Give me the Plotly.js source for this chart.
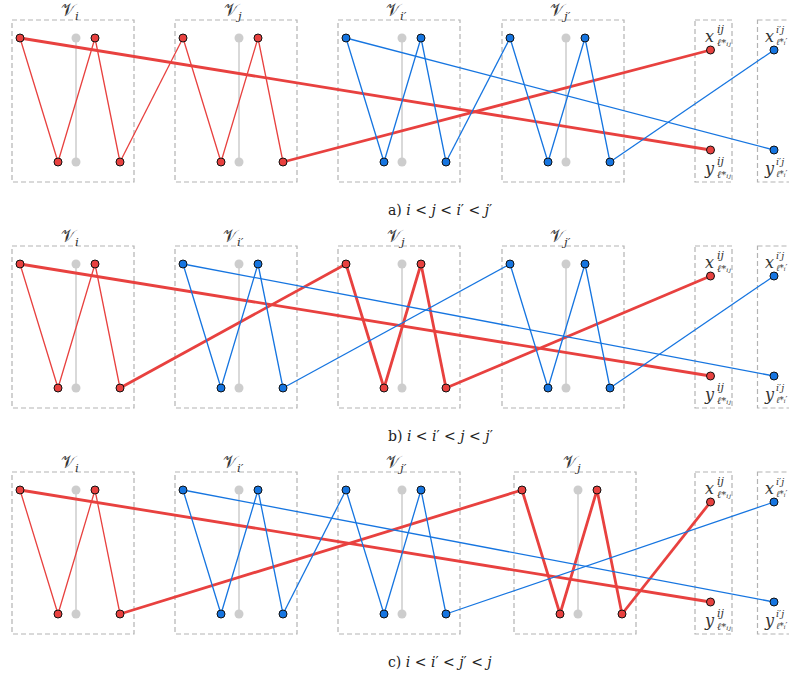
<!DOCTYPE html>
<html><head><meta charset="utf-8">
<script src="https://cdn.plot.ly/plotly-3.0.1.min.js"></script>
<style>body{margin:0;background:#fff}#c{width:789px;height:679px}</style>
</head><body><div id="c"></div>
<script>
// ---- data ----
const panelNames = ['a', 'b', 'c'];
const captions = [
  'a) <i>i</i> &lt; <i>j</i> &lt; <i>i</i>′ &lt; <i>j</i>′',
  'b) <i>i</i> &lt; <i>i</i>′ &lt; <i>j</i> &lt; <i>j</i>′',
  'c) <i>i</i> &lt; <i>i</i>′ &lt; <i>j</i>′ &lt; <i>j</i>'
];
const blockLabels = [
  ['i', 'j', 'i′', 'j′'],
  ['i', 'i′', 'j', 'j′'],
  ['i', 'i′', 'j′', 'j']
];
const blockLefts = [
  [12, 175, 338, 502],
  [12, 175, 338, 502],
  [12, 175, 338, 514]
];
const panelTops = [20, 246, 472];
// which blocks hold the red (i,j) and blue (i',j') paths
const redBlocks = [[0, 1], [0, 2], [0, 3]];
const blueBlocks = [[2, 3], [1, 3], [1, 2]];
// red path drawn thick from: 'end' = only end segments, 'link' = from the link onward
const redThickFrom = ['end', 'link', 'link'];
const endSups = ['<i>ij</i>', '<i>i</i>′<i>j</i>'];
const endSubs = ['<i>ℓ</i>*<i>ᵢⱼ</i>', '<i>ℓ</i>*<i>ᵢ</i>′'];

// ---- geometry (style) ----
const boxW = 122, boxH = 162;
const slotOff = [8, 46, 64, 83, 108];
const topOff = 18, botOff = 142;
const endX = [710.5, 774], endBox = [[695, 37], [757.5, 40]];
const endTopOff = 30, endBotOff = 130;
const letterDx = [-1, -5], scriptDx = [4, 0], scriptSize = [11, 9.5];
const RED = '#e8413f', BLUE = '#1675e0', GRAY = '#cdcdcd', BOXC = '#b3b3b3';
const thin = 1.3, thick = 2.8;

const traces = [], shapes = [], ann = [];
function nodeXY(p, k, s, top) {
  return [blockLefts[p][k] + slotOff[s], panelTops[p] + (top ? topOff : botOff)];
}
function zig(p, k) {
  return [nodeXY(p, k, 0, 1), nodeXY(p, k, 1, 0), nodeXY(p, k, 3, 1), nodeXY(p, k, 4, 0)];
}
function addLine(pts, color, w) {
  traces.push({type: 'scatter', mode: 'lines', x: pts.map(q => q[0]), y: pts.map(q => q[1]),
    line: {color: color, width: w}, hoverinfo: 'skip'});
}
function addNodes(pts, color) {
  traces.push({type: 'scatter', mode: 'markers', x: pts.map(q => q[0]), y: pts.map(q => q[1]),
    marker: {color: color, size: 8, line: {color: '#111', width: 1}}, hoverinfo: 'skip'});
}
const serif = 'DejaVu Serif';
for (let p = 0; p < 3; p++) {
  const T = panelTops[p];
  // boxes + labels + gray columns
  for (let k = 0; k < 4; k++) {
    const L = blockLefts[p][k];
    shapes.push({type: 'rect', x0: L, x1: L + boxW, y0: T, y1: T + boxH, xref: 'x', yref: 'y',
      line: {color: BOXC, width: 1.2, dash: '5px,3px'}, layer: 'below'});
    ann.push({x: L + boxW / 2 - 3, y: T - 9, xref: 'x', yref: 'y', showarrow: false,
      text: '𝒱<sub><i>' + blockLabels[p][k] + '</i></sub>', font: {family: serif, size: 17, color: '#333'}});
    const g1 = nodeXY(p, k, 2, 1), g2 = nodeXY(p, k, 2, 0);
    traces.push({type: 'scatter', mode: 'lines+markers', x: [g1[0], g2[0]], y: [g1[1], g2[1]],
      line: {color: GRAY, width: 1.5}, marker: {color: GRAY, size: 9}, hoverinfo: 'skip'});
  }
  for (let e = 0; e < 2; e++) {
    shapes.push({type: 'rect', x0: endBox[e][0], x1: endBox[e][0] + endBox[e][1], y0: T, y1: T + boxH,
      xref: 'x', yref: 'y', line: {color: BOXC, width: 1.2, dash: '5px,3px'}, layer: 'below'});
  }
  // endpoint labels
  for (let e = 0; e < 2; e++) {
    const X = endX[e];
    const yt = T + endTopOff - 14, yb = T + endBotOff + 18;
    [['x', yt], ['y', yb]].forEach(([letter, yy]) => {
      ann.push({x: X + letterDx[e], y: yy, xref: 'x', yref: 'y', showarrow: false, text: '<i>' + letter + '</i>',
        font: {family: serif, size: 16, color: '#333'}});
      ann.push({x: X + scriptDx[e], y: yy - 7, xref: 'x', yref: 'y', xanchor: 'left',
        showarrow: false, text: endSups[e], font: {family: serif, size: scriptSize[e], color: '#333'}});
      ann.push({x: X + scriptDx[e], y: yy + 6, xref: 'x', yref: 'y', xanchor: 'left',
        showarrow: false, text: endSubs[e], font: {family: serif, size: scriptSize[e] - 1, color: '#333'}});
    });
  }
  // caption
  ann.push({x: 440, y: T + 190, xref: 'x', yref: 'y', showarrow: false, text: captions[p],
    font: {family: serif, size: 14, color: '#222'}});

  // paths
  const pairs = [[redBlocks[p], RED, 0], [blueBlocks[p], BLUE, 1]];
  const nodeSets = [];
  pairs.forEach(([blocks, color, e]) => {
    const z1 = zig(p, blocks[0]), z2 = zig(p, blocks[1]);
    const X = [endX[e], T + endTopOff], Y = [endX[e], T + endBotOff];
    let wZig1 = thin, wLink = thin, wZig2 = thin, wEnd = thin;
    if (e === 0) {
      wEnd = thick;
      if (redThickFrom[p] === 'link') { wLink = thick; wZig2 = thick; }
    }
    addLine(z1, color, wZig1);
    addLine([z1[3], z2[0]], color, wLink);
    addLine(z2, color, wZig2);
    addLine([z2[3], X], color, wEnd);
    addLine([z1[0], Y], color, wEnd);
    nodeSets.push([z1.concat(z2, [X, Y]), color]);
  });
  nodeSets.forEach(([pts, c]) => addNodes(pts, c));
}

const layout = {
  width: 789, height: 679, margin: {l: 0, r: 0, t: 0, b: 0},
  paper_bgcolor: '#fff', plot_bgcolor: '#fff', showlegend: false,
  font: {family: serif},
  xaxis: {range: [0, 789], visible: false, fixedrange: true},
  yaxis: {range: [679, 0], visible: false, fixedrange: true},
  shapes: shapes, annotations: ann
};
Plotly.newPlot('c', traces, layout, {staticPlot: true});
</script></body></html>
